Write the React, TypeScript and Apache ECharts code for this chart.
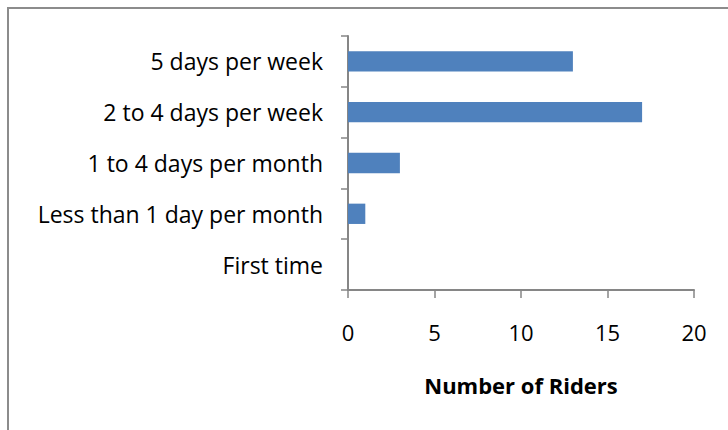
import React, { useEffect, useRef } from "react";
import * as echarts from "echarts";

const categories = [
  "5 days per week",
  "2 to 4 days per week",
  "1 to 4 days per month",
  "Less than 1 day per month",
  "First time",
];
const riders = [13, 17, 3, 1, 0];
const xTicks = { min: 0, max: 20, interval: 5 };
const xTitle = "Number of Riders";

const FONT = "'Open Sans', Lato, sans-serif";
const AXIS_GRAY = "#868686";

export default function App() {
  const ref = useRef<HTMLDivElement>(null);

  useEffect(() => {
    if (!ref.current) return;
    const chart = echarts.init(ref.current, null, { renderer: "svg" });
    chart.setOption({
      animation: false,
      backgroundColor: "#ffffff",
      graphic: [
        {
          type: "rect",
          shape: { x: 8, y: 8, width: 760, height: 460 },
          style: { fill: "none", stroke: "#8c8c8c", lineWidth: 2 },
          silent: true,
        },
      ],
      grid: { left: 348, right: 34, top: 36, bottom: 140 },
      xAxis: {
        type: "value",
        min: xTicks.min,
        max: xTicks.max,
        interval: xTicks.interval,
        splitLine: { show: false },
        axisLine: { show: true, lineStyle: { color: AXIS_GRAY, width: 2 } },
        axisTick: { show: true, length: 8, lineStyle: { color: AXIS_GRAY, width: 1.5 } },
        axisLabel: {
          color: "#000",
          fontFamily: FONT,
          fontSize: 22,
          margin: 31,
        },
        name: xTitle,
        nameLocation: "middle",
        nameGap: 84,
        nameTextStyle: {
          color: "#000",
          fontFamily: FONT,
          fontSize: 22,
          fontWeight: "bold",
        },
      },
      yAxis: {
        type: "category",
        data: categories,
        inverse: true,
        axisLine: { show: true, lineStyle: { color: AXIS_GRAY, width: 2 } },
        axisTick: { show: true, length: 7, lineStyle: { color: AXIS_GRAY, width: 1.5 } },
        axisLabel: {
          color: "#000",
          fontFamily: FONT,
          fontSize: 23,
          margin: 25,
        },
      },
      series: [
        {
          type: "bar",
          data: riders,
          barCategoryGap: "60%",
          itemStyle: { color: "#4F81BD" },
        },
      ],
    });
    return () => chart.dispose();
  }, []);

  return (
    <div
      ref={ref}
      style={{ position: "absolute", left: 0, top: 0, width: 728, height: 430 }}
    />
  );
}
